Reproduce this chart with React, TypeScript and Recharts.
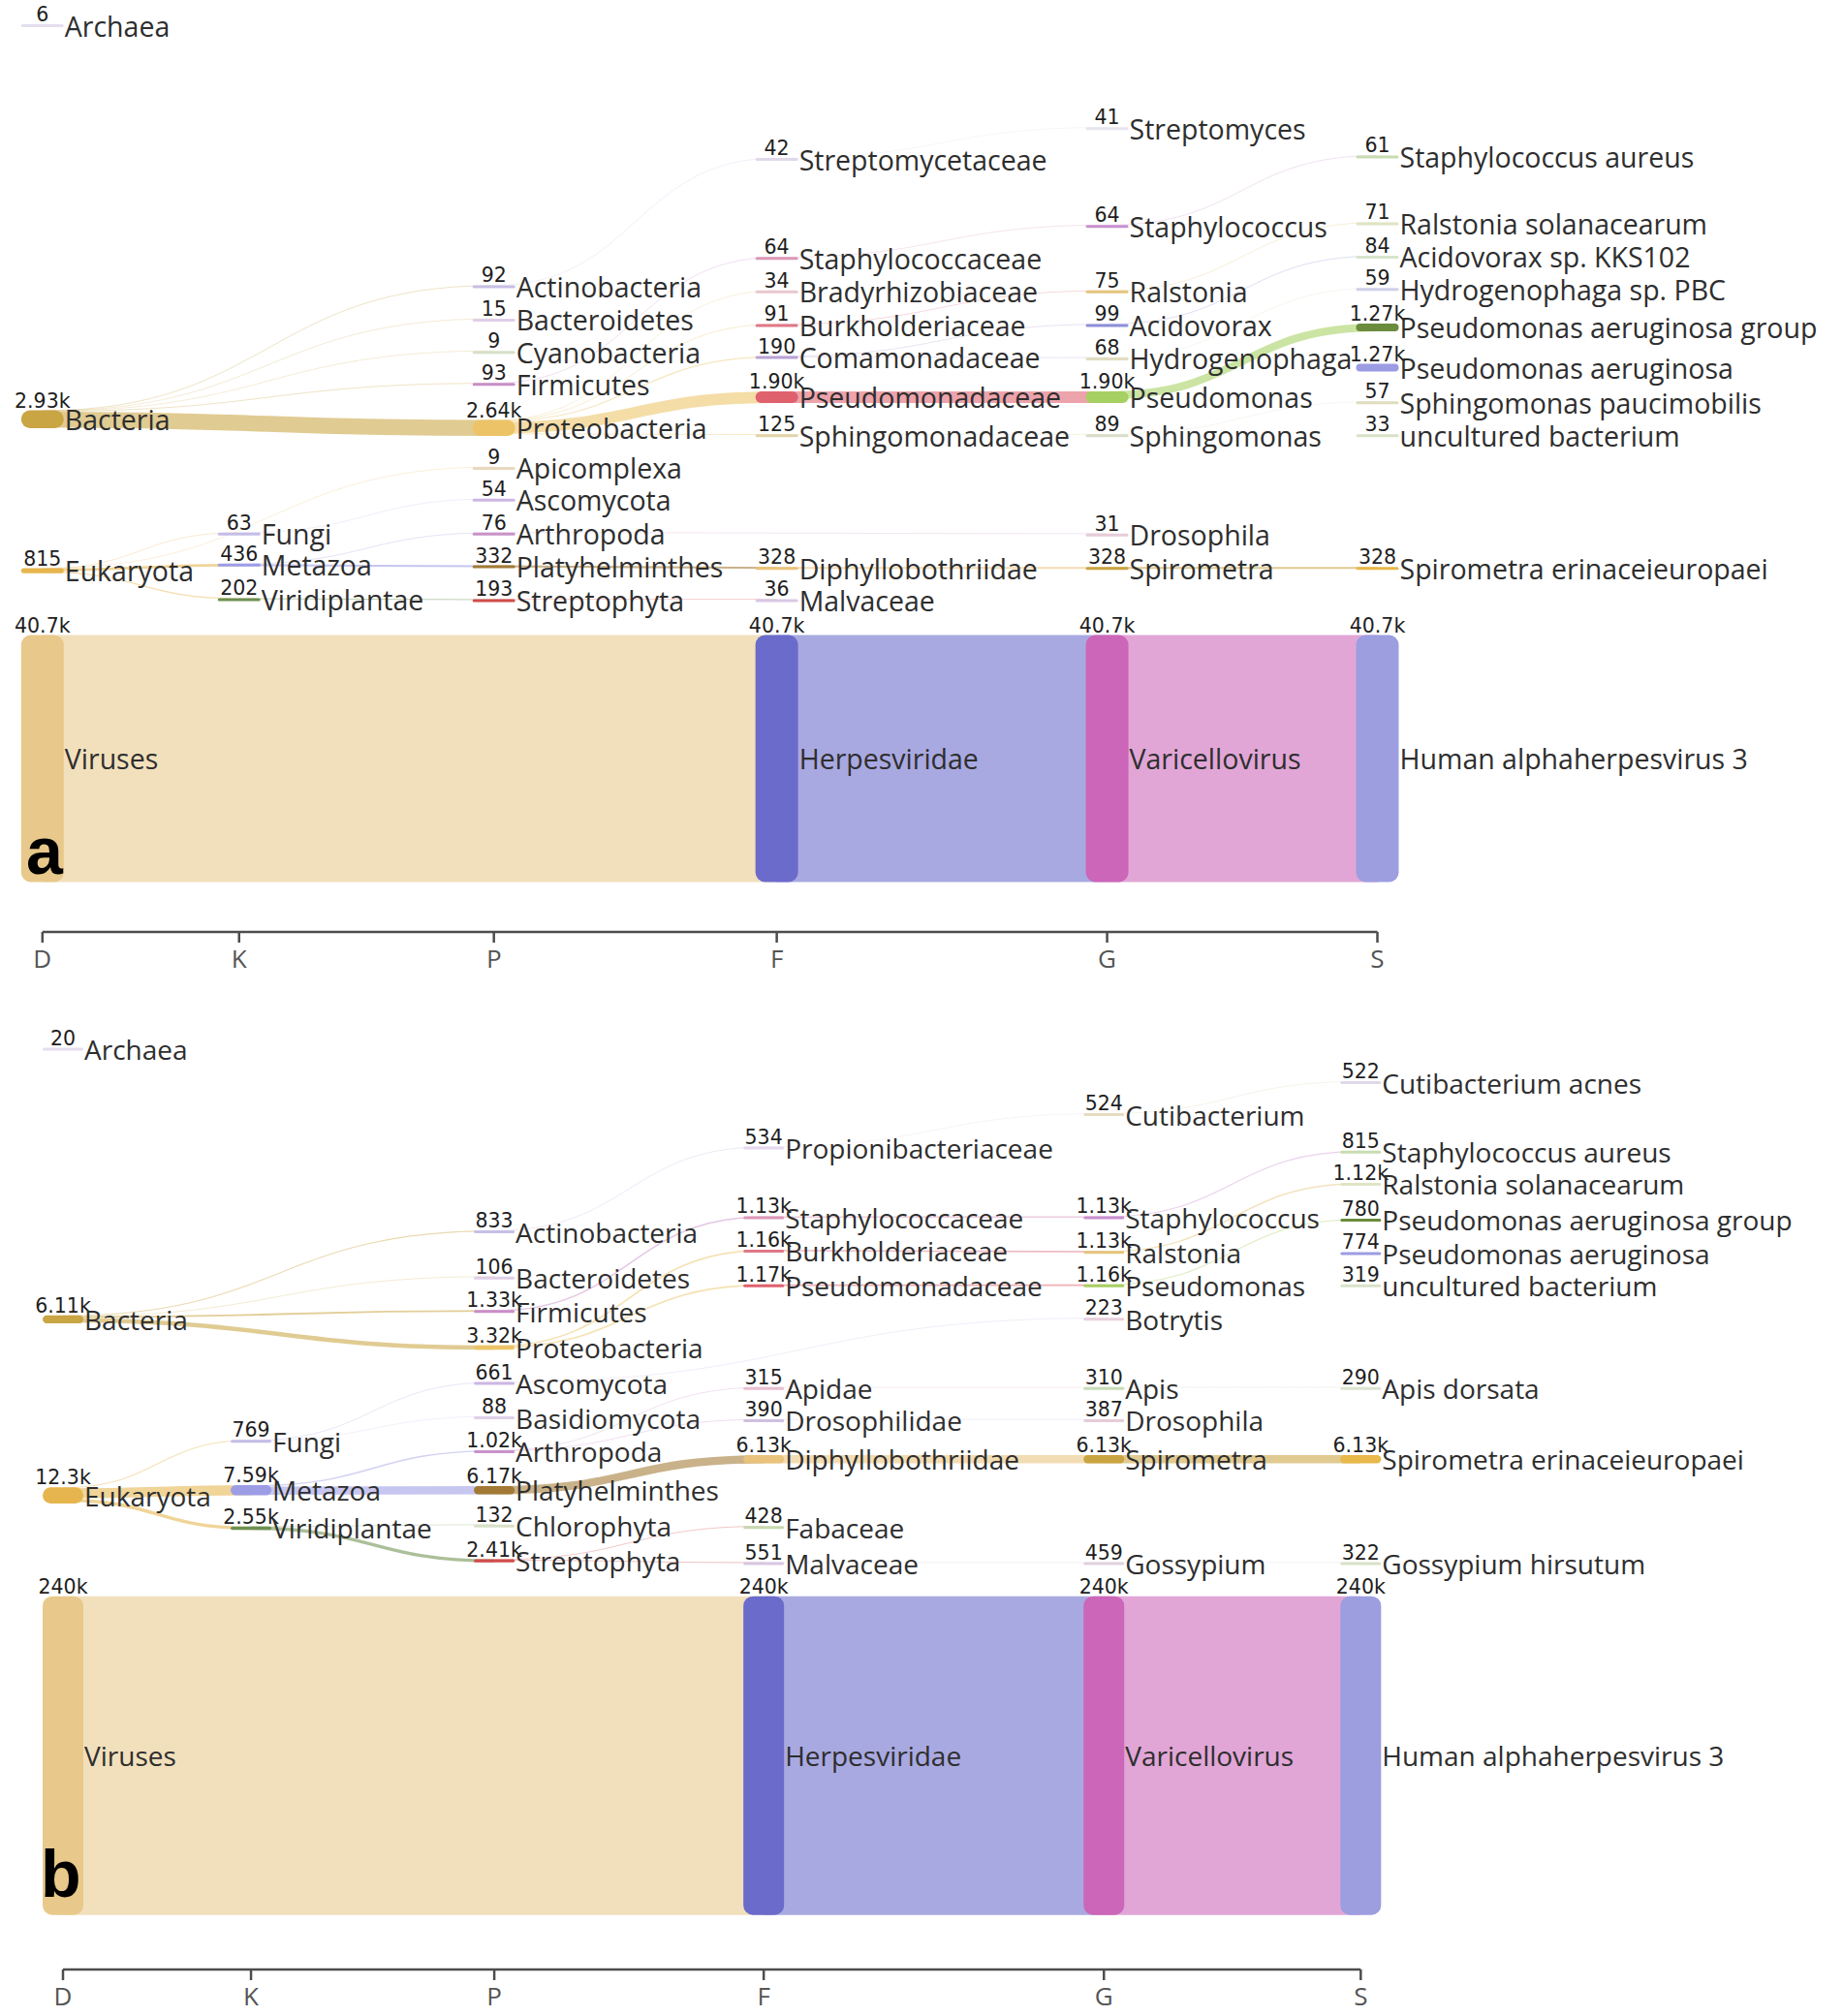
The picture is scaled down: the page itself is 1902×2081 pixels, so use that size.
import React from "react";
import { ScatterChart, Scatter, XAxis, YAxis } from "recharts";

const RANKS = ["D", "K", "P", "F", "G", "S"];

// where each rank sits along the bottom axis (axis units)
const RANK_STOPS_A = [0, 203, 466, 758, 1099, 1378];
const RANK_STOPS_B = [0, 194, 445, 723, 1074, 1339];

type Row = [string, string, number, string | null];

// sample a: [taxon, rank, reads, parent]
const TAXA_A: Row[] = [
  ["Archaea", "D", 6, null],
  ["Bacteria", "D", 2930, null],
  ["Eukaryota", "D", 815, null],
  ["Viruses", "D", 40700, null],
  ["Fungi", "K", 63, "Eukaryota"],
  ["Metazoa", "K", 436, "Eukaryota"],
  ["Viridiplantae", "K", 202, "Eukaryota"],
  ["Actinobacteria", "P", 92, "Bacteria"],
  ["Bacteroidetes", "P", 15, "Bacteria"],
  ["Cyanobacteria", "P", 9, "Bacteria"],
  ["Firmicutes", "P", 93, "Bacteria"],
  ["Proteobacteria", "P", 2640, "Bacteria"],
  ["Apicomplexa", "P", 9, "Eukaryota"],
  ["Ascomycota", "P", 54, "Fungi"],
  ["Arthropoda", "P", 76, "Metazoa"],
  ["Platyhelminthes", "P", 332, "Metazoa"],
  ["Streptophyta", "P", 193, "Viridiplantae"],
  ["Streptomycetaceae", "F", 42, "Actinobacteria"],
  ["Staphylococcaceae", "F", 64, "Firmicutes"],
  ["Bradyrhizobiaceae", "F", 34, "Proteobacteria"],
  ["Burkholderiaceae", "F", 91, "Proteobacteria"],
  ["Comamonadaceae", "F", 190, "Proteobacteria"],
  ["Pseudomonadaceae", "F", 1900, "Proteobacteria"],
  ["Sphingomonadaceae", "F", 125, "Proteobacteria"],
  ["Diphyllobothriidae", "F", 328, "Platyhelminthes"],
  ["Malvaceae", "F", 36, "Streptophyta"],
  ["Herpesviridae", "F", 40700, "Viruses"],
  ["Streptomyces", "G", 41, "Streptomycetaceae"],
  ["Staphylococcus", "G", 64, "Staphylococcaceae"],
  ["Ralstonia", "G", 75, "Burkholderiaceae"],
  ["Acidovorax", "G", 99, "Comamonadaceae"],
  ["Hydrogenophaga", "G", 68, "Comamonadaceae"],
  ["Pseudomonas", "G", 1900, "Pseudomonadaceae"],
  ["Sphingomonas", "G", 89, "Sphingomonadaceae"],
  ["Drosophila", "G", 31, "Arthropoda"],
  ["Spirometra", "G", 328, "Diphyllobothriidae"],
  ["Varicellovirus", "G", 40700, "Herpesviridae"],
  ["Staphylococcus aureus", "S", 61, "Staphylococcus"],
  ["Ralstonia solanacearum", "S", 71, "Ralstonia"],
  ["Acidovorax sp. KKS102", "S", 84, "Acidovorax"],
  ["Hydrogenophaga sp. PBC", "S", 59, "Hydrogenophaga"],
  ["Pseudomonas aeruginosa group", "S", 1270, "Pseudomonas"],
  ["Pseudomonas aeruginosa", "S", 1270, "Pseudomonas aeruginosa group"],
  ["Sphingomonas paucimobilis", "S", 57, "Sphingomonas"],
  ["uncultured bacterium", "S", 33, null],
  ["Spirometra erinaceieuropaei", "S", 328, "Spirometra"],
  ["Human alphaherpesvirus 3", "S", 40700, "Varicellovirus"],
];

// sample b
const TAXA_B: Row[] = [
  ["Archaea", "D", 20, null],
  ["Bacteria", "D", 6110, null],
  ["Eukaryota", "D", 12300, null],
  ["Viruses", "D", 240000, null],
  ["Fungi", "K", 769, "Eukaryota"],
  ["Metazoa", "K", 7590, "Eukaryota"],
  ["Viridiplantae", "K", 2550, "Eukaryota"],
  ["Actinobacteria", "P", 833, "Bacteria"],
  ["Bacteroidetes", "P", 106, "Bacteria"],
  ["Firmicutes", "P", 1330, "Bacteria"],
  ["Proteobacteria", "P", 3320, "Bacteria"],
  ["Ascomycota", "P", 661, "Fungi"],
  ["Basidiomycota", "P", 88, "Fungi"],
  ["Arthropoda", "P", 1020, "Metazoa"],
  ["Platyhelminthes", "P", 6170, "Metazoa"],
  ["Chlorophyta", "P", 132, "Viridiplantae"],
  ["Streptophyta", "P", 2410, "Viridiplantae"],
  ["Propionibacteriaceae", "F", 534, "Actinobacteria"],
  ["Staphylococcaceae", "F", 1130, "Firmicutes"],
  ["Burkholderiaceae", "F", 1160, "Proteobacteria"],
  ["Pseudomonadaceae", "F", 1170, "Proteobacteria"],
  ["Apidae", "F", 315, "Arthropoda"],
  ["Drosophilidae", "F", 390, "Arthropoda"],
  ["Diphyllobothriidae", "F", 6130, "Platyhelminthes"],
  ["Fabaceae", "F", 428, "Streptophyta"],
  ["Malvaceae", "F", 551, "Streptophyta"],
  ["Herpesviridae", "F", 240000, "Viruses"],
  ["Cutibacterium", "G", 524, "Propionibacteriaceae"],
  ["Staphylococcus", "G", 1130, "Staphylococcaceae"],
  ["Ralstonia", "G", 1130, "Burkholderiaceae"],
  ["Pseudomonas", "G", 1160, "Pseudomonadaceae"],
  ["Botrytis", "G", 223, "Ascomycota"],
  ["Apis", "G", 310, "Apidae"],
  ["Drosophila", "G", 387, "Drosophilidae"],
  ["Spirometra", "G", 6130, "Diphyllobothriidae"],
  ["Gossypium", "G", 459, "Malvaceae"],
  ["Varicellovirus", "G", 240000, "Herpesviridae"],
  ["Cutibacterium acnes", "S", 522, "Cutibacterium"],
  ["Staphylococcus aureus", "S", 815, "Staphylococcus"],
  ["Ralstonia solanacearum", "S", 1120, "Ralstonia"],
  ["Pseudomonas aeruginosa group", "S", 780, "Pseudomonas"],
  ["Pseudomonas aeruginosa", "S", 774, "Pseudomonas aeruginosa group"],
  ["uncultured bacterium", "S", 319, null],
  ["Apis dorsata", "S", 290, "Apis"],
  ["Spirometra erinaceieuropaei", "S", 6130, "Spirometra"],
  ["Gossypium hirsutum", "S", 322, "Gossypium"],
  ["Human alphaherpesvirus 3", "S", 240000, "Varicellovirus"],
];

// vertical slot of each taxon (row units, 0 = top row)
const ROW_A: Record<string, number> = {
  Archaea: 0, Bacteria: 12.0, Eukaryota: 16.62, Viruses: 22.35,
  Fungi: 15.5, Metazoa: 16.45, Viridiplantae: 17.5,
  Actinobacteria: 7.96, Bacteroidetes: 8.98, Cyanobacteria: 9.96, Firmicutes: 10.94,
  Proteobacteria: 12.27, Apicomplexa: 13.5, Ascomycota: 14.47, Arthropoda: 15.5,
  Platyhelminthes: 16.5, Streptophyta: 17.53,
  Streptomycetaceae: 4.08, Staphylococcaceae: 7.1, Bradyrhizobiaceae: 8.12,
  Burkholderiaceae: 9.14, Comamonadaceae: 10.12, Pseudomonadaceae: 11.33,
  Sphingomonadaceae: 12.5, Diphyllobothriidae: 16.55, Malvaceae: 17.53, Herpesviridae: 22.35,
  Streptomyces: 3.14, Staphylococcus: 6.12, Ralstonia: 8.12, Acidovorax: 9.14,
  Hydrogenophaga: 10.16, Pseudomonas: 11.33, Sphingomonas: 12.5, Drosophila: 15.53,
  Spirometra: 16.55, Varicellovirus: 22.35,
  "Staphylococcus aureus": 4.0, "Ralstonia solanacearum": 6.04, "Acidovorax sp. KKS102": 7.06,
  "Hydrogenophaga sp. PBC": 8.04, "Pseudomonas aeruginosa group": 9.2, "Pseudomonas aeruginosa": 10.43,
  "Sphingomonas paucimobilis": 11.5, "uncultured bacterium": 12.5,
  "Spirometra erinaceieuropaei": 16.55, "Human alphaherpesvirus 3": 22.35,
};

const ROW_B: Record<string, number> = {
  Archaea: 0, Bacteria: 7.84, Eukaryota: 12.95, Viruses: 20.5,
  Fungi: 11.38, Metazoa: 12.8, Viridiplantae: 13.9,
  Actinobacteria: 5.3, Bacteroidetes: 6.64, Firmicutes: 7.61, Proteobacteria: 8.66,
  Ascomycota: 9.7, Basidiomycota: 10.7, Arthropoda: 11.68, Platyhelminthes: 12.8,
  Chlorophyta: 13.84, Streptophyta: 14.85,
  Propionibacteriaceae: 2.87, Staphylococcaceae: 4.89, Burkholderiaceae: 5.86,
  Pseudomonadaceae: 6.87, Apidae: 9.85, Drosophilidae: 10.78, Diphyllobothriidae: 11.9,
  Fabaceae: 13.88, Malvaceae: 14.93, Herpesviridae: 20.5,
  Cutibacterium: 1.9, Staphylococcus: 4.89, Ralstonia: 5.9, Pseudomonas: 6.87,
  Botrytis: 7.84, Apis: 9.85, Drosophila: 10.78, Spirometra: 11.9, Gossypium: 14.93,
  Varicellovirus: 20.5,
  "Cutibacterium acnes": 0.97, "Staphylococcus aureus": 2.99, "Ralstonia solanacearum": 3.92,
  "Pseudomonas aeruginosa group": 4.96, "Pseudomonas aeruginosa": 5.93,
  "uncultured bacterium": 6.87, "Apis dorsata": 9.85, "Spirometra erinaceieuropaei": 11.9,
  "Gossypium hirsutum": 14.93, "Human alphaherpesvirus 3": 20.5,
};

const TAXON_COLORS: Record<string, string> = {
  Archaea: "#e4def0", Bacteria: "#c9a544", Eukaryota: "#e6b54e", Viruses: "#e8c98b",
  Fungi: "#c4bde8", Metazoa: "#9d9de6", Viridiplantae: "#6f9050",
  Actinobacteria: "#c6bfe6", Bacteroidetes: "#e0cfe8", Cyanobacteria: "#d8e0c8",
  Firmicutes: "#c98ec8", Proteobacteria: "#ecc467", Apicomplexa: "#e8d8c0",
  Ascomycota: "#cdb7e3", Basidiomycota: "#e0d0e8", Arthropoda: "#c993c9",
  Platyhelminthes: "#a27a35", Chlorophyta: "#d8e0c8", Streptophyta: "#d24c4c",
  Streptomycetaceae: "#e0d8ea", Propionibacteriaceae: "#e6d8ee", Staphylococcaceae: "#dc98b8",
  Bradyrhizobiaceae: "#e8c8d0", Burkholderiaceae: "#e07888", Comamonadaceae: "#b9a3d6",
  Pseudomonadaceae: "#e0616e", Sphingomonadaceae: "#e2d3a8", Apidae: "#e8c0d0",
  Drosophilidae: "#d0c0e0", Diphyllobothriidae: "#e9c37c", Fabaceae: "#c8d8b0",
  Malvaceae: "#d8c8e4", Herpesviridae: "#6b6bcb",
  Streptomyces: "#e8e4ee", Cutibacterium: "#e8dcc0", Staphylococcus: "#c98fd0",
  Ralstonia: "#e4c57e", Acidovorax: "#8f8fd8", Hydrogenophaga: "#e2dcc0",
  Pseudomonas: "#a6d061", Sphingomonas: "#d8dcc8", Botrytis: "#e8d0dc", Apis: "#c8dcb8",
  Drosophila: "#e6ccd8", Spirometra: "#c9a443", Gossypium: "#e2d0e0", Varicellovirus: "#cc66b8",
  "Staphylococcus aureus": "#c8dcb0", "Ralstonia solanacearum": "#dfe4c4",
  "Acidovorax sp. KKS102": "#d8e4cc", "Hydrogenophaga sp. PBC": "#d0d0ea",
  "Pseudomonas aeruginosa group": "#6a8c3c", "Pseudomonas aeruginosa": "#9c9ce4",
  "Sphingomonas paucimobilis": "#e0dcc0", "uncultured bacterium": "#d8e2c8",
  "Cutibacterium acnes": "#e0d8e8", "Apis dorsata": "#dce4d0",
  "Spirometra erinaceieuropaei": "#e8b84a", "Gossypium hirsutum": "#d8e2c8",
  "Human alphaherpesvirus 3": "#9c9ee0",
};

const AXIS_H = 48;
const MIN_NODE_H = 3;

type Cfg = {
  top: number;
  height: number;
  marginTop: number;
  left: number;
  right: number;
  laneStep: number;
  pxPerRead: number;
  nodeW: number;
  nameSize: number;
};

const CFG_A: Cfg = { top: 0, height: 1010, marginTop: 26.5, left: 43.8, right: 480.5, laneStep: 33.85, pxPerRead: 0.006265, nodeW: 44, nameSize: 28.5 };
const CFG_B: Cfg = { top: 1050, height: 1031, marginTop: 33, left: 65, right: 497.7, laneStep: 35.57, pxPerRead: 0.001371, nodeW: 42, nameSize: 28 };

const fmt = (v: number) => (v >= 1000 ? (v / 1000).toPrecision(3) + "k" : String(v));

type TaxNode = { name: string; rank: string; reads: number; parent: string | null; x: number; y: number };

function buildNodes(rows: Row[], slots: Record<string, number>, stops: number[]): TaxNode[] {
  return rows.map(([name, rank, reads, parent]) => ({
    name,
    rank,
    reads,
    parent,
    x: stops[RANKS.indexOf(rank)],
    y: slots[name],
  }));
}

function buildLinks(nodes: TaxNode[], cfg: Cfg) {
  const byName = new Map(nodes.map((n) => [n.name, n]));
  const nodeH = (n: TaxNode) => Math.max(n.reads * cfg.pxPerRead, MIN_NODE_H);
  const used = new Map<string, number>();
  const kids = nodes
    .filter((n) => n.parent && byName.has(n.parent) && byName.get(n.parent)!.x < n.x)
    .sort((a, b) => a.y - b.y);
  return kids.map((c) => {
    const p = byName.get(c.parent!)!;
    const w = c.reads * cfg.pxPerRead;
    const cum = used.get(p.name) ?? 0;
    used.set(p.name, cum + w);
    const sOff = (-nodeH(p) / 2 + cum + w / 2) / cfg.laneStep;
    const tOff = (-nodeH(c) / 2 + w / 2) / cfg.laneStep;
    return {
      key: p.name + ">" + c.name,
      color: TAXON_COLORS[p.name] || "#ccc",
      width: Math.max(w, 1),
      // thin flows fade out, as in the original
      opacity: w >= 2 ? 0.58 : 0.2 + 0.19 * w,
      points: [
        { x: p.x, y: p.y + sOff },
        { x: c.x, y: c.y + tOff },
      ],
    };
  });
}

function NodeMark({ cx, cy, payload, cfg }: any) {
  const h = Math.max(payload.reads * cfg.pxPerRead, MIN_NODE_H);
  const top = cy - h / 2;
  return (
    <g>
      <rect
        x={cx - cfg.nodeW / 2}
        y={top}
        width={cfg.nodeW}
        height={h}
        rx={Math.min(h / 2, 10)}
        fill={TAXON_COLORS[payload.name] || "#ddd"}
      />
      <text x={cx} y={top - 3} textAnchor="middle" fontFamily="DejaVu Sans" fontSize={20.5} fill="#1e1e1e">
        {fmt(payload.reads)}
      </text>
      <text
        x={cx + cfg.nodeW / 2 + 1}
        y={cy}
        dominantBaseline="central"
        fontFamily="Open Sans"
        fontSize={cfg.nameSize}
        fill="#2e2e2e"
      >
        {payload.name}
      </text>
    </g>
  );
}

function TaxonFlow({ rows, slots, stops, cfg }: { rows: Row[]; slots: Record<string, number>; stops: number[]; cfg: Cfg }) {
  const nodes = buildNodes(rows, slots, stops);
  const links = buildLinks(nodes, cfg);
  const maxLane = (cfg.height - AXIS_H - cfg.marginTop) / cfg.laneStep;

  return (
    <div style={{ position: "absolute", left: 0, top: cfg.top }}>
      <ScatterChart
        width={1902}
        height={cfg.height}
        margin={{ top: cfg.marginTop, right: cfg.right, bottom: 0, left: cfg.left }}
      >
        <XAxis
          type="number"
          dataKey="x"
          domain={[0, stops[stops.length - 1]]}
          ticks={stops}
          interval={0}
          tickFormatter={(v: number) => RANKS[stops.indexOf(v)]}
          height={AXIS_H}
          axisLine={{ stroke: "#4d4d4d", strokeWidth: 2.5 }}
          tickLine={{ stroke: "#4d4d4d", strokeWidth: 2.5 }}
          tickSize={11}
          tickMargin={8}
          tick={{ fill: "#555", fontSize: 26, fontFamily: "Open Sans" }}
        />
        <YAxis type="number" dataKey="y" domain={[0, maxLane]} reversed hide />
        {links.map((l) => (
          <Scatter
            key={l.key}
            data={l.points}
            line={{ stroke: l.color, strokeWidth: l.width, strokeOpacity: l.opacity }}
            lineJointType="bumpX"
            shape={() => <g />}
            isAnimationActive={false}
          />
        ))}
        <Scatter
          data={nodes}
          shape={(p: any) => <NodeMark {...p} cfg={cfg} />}
          isAnimationActive={false}
        />
      </ScatterChart>
    </div>
  );
}

export default function App() {
  return (
    <div style={{ position: "absolute", left: 0, top: 0, width: 1902, height: 2081, background: "#fff", overflow: "hidden" }}>
      <TaxonFlow rows={TAXA_A} slots={ROW_A} stops={RANK_STOPS_A} cfg={CFG_A} />
      <TaxonFlow rows={TAXA_B} slots={ROW_B} stops={RANK_STOPS_B} cfg={CFG_B} />
      <svg width={1902} height={2081} style={{ position: "absolute", left: 0, top: 0, pointerEvents: "none" }}>
        <text x={27} y={902} fontFamily="Liberation Sans" fontWeight="bold" fontSize={68} fill="#000">
          a
        </text>
        <text x={42} y={1958} fontFamily="Liberation Sans" fontWeight="bold" fontSize={68} fill="#000">
          b
        </text>
      </svg>
    </div>
  );
}
